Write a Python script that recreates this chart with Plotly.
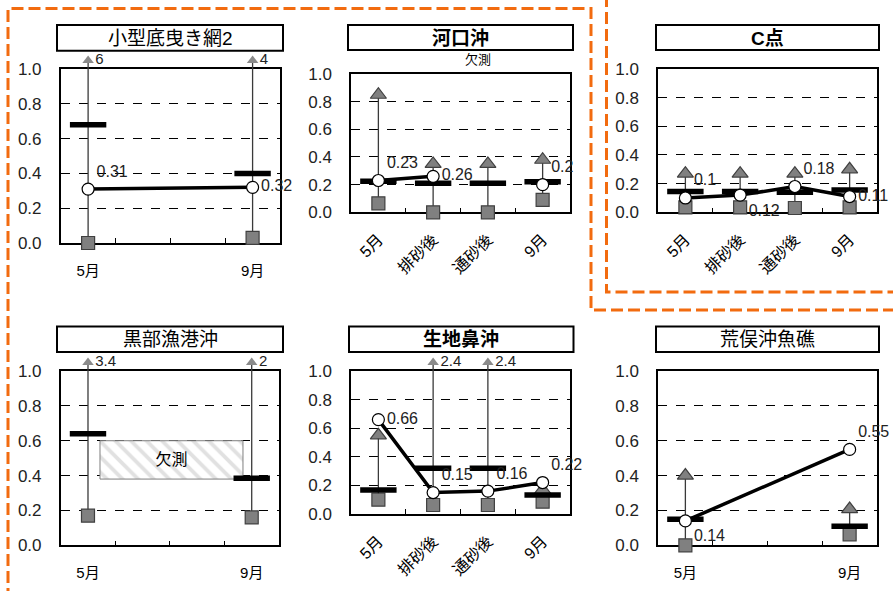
import plotly.graph_objects as go

W, H = 893, 591

# ---------------- data ----------------
categories = ["5月", "排砂後", "通砂後", "9月"]
titles = ["小型底曳き網2", "河口沖", "C点", "黒部漁港沖", "生地鼻沖", "荒俣沖魚礁"]
title_bold = [False, True, True, False, True, False]

# 小型底曳き網2
p1_cats = ["5月", "9月"]
p1_min = [0.0, 0.03]
p1_max = [6, 4]
p1_mean = [0.68, 0.40]
p1_val = [0.31, 0.32]

# 河口沖
p2_cats = ["5月", "排砂後", "通砂後", "9月"]
p2_min = [0.065, 0.0, 0.0, 0.09]
p2_max = [0.85, 0.35, 0.35, 0.38]
p2_mean = [0.225, 0.21, 0.21, 0.22]
p2_val = [0.23, 0.26, None, 0.2]

# C点
p3_cats = ["5月", "排砂後", "通砂後", "9月"]
p3_min = [0.035, 0.035, 0.03, 0.035]
p3_max = [0.27, 0.27, 0.27, 0.30]
p3_mean = [0.145, 0.145, 0.14, 0.155]
p3_val = [0.1, 0.12, 0.18, 0.11]

# 黒部漁港沖
p4_cats = ["5月", "9月"]
p4_min = [0.17, 0.16]
p4_max = [3.4, 2]
p4_mean = [0.64, 0.385]
p4_val = [None, None]
p4_missing_x = [1.53]        # centre of the 欠測 block (category units)
p4_missing_w = [2.62]
p4_missing_lo = [0.38]
p4_missing_hi = [0.60]

# 生地鼻沖
p5_cats = ["5月", "排砂後", "通砂後", "9月"]
p5_min = [0.10, 0.063, 0.063, 0.086]
p5_max = [0.55, 2.4, 2.4, 0.168]
p5_mean = [0.168, 0.32, 0.32, 0.133]
p5_val = [0.66, 0.15, 0.16, 0.22]

# 荒俣沖魚礁
p6_cats = ["5月", "9月"]
p6_min = [0.0, 0.063]
p6_max = [0.40, 0.208]
p6_mean = [0.15, 0.11]
p6_val = [0.14, 0.55]

panels = [
    (p1_cats, p1_min, p1_max, p1_mean, p1_val),
    (p2_cats, p2_min, p2_max, p2_mean, p2_val),
    (p3_cats, p3_min, p3_max, p3_mean, p3_val),
    (p4_cats, p4_min, p4_max, p4_mean, p4_val),
    (p5_cats, p5_min, p5_max, p5_mean, p5_val),
    (p6_cats, p6_min, p6_max, p6_mean, p6_val),
]

# ---------------- layout (pixels) ----------------
plot_px = [
    (60.7, 280, 69, 243),
    (351, 570, 74, 212.3),
    (658, 877, 69, 212.3),
    (60.7, 279, 371, 545.3),
    (351, 570, 371, 514),
    (658, 877, 371, 545.3),
]
title_px = [
    (57, 283, 25, 50.7),
    (348, 573, 25, 50),
    (656, 879, 25, 50),
    (57, 283, 326.5, 352),
    (349, 573.5, 326.5, 352),
    (656, 879, 326.5, 352),
]
rotated = [False, True, True, False, True, False]
label_pos = [
    ["top right", "middle right"],
    ["top right", "middle right", "top right", "top right"],
    ["top right", "bottom right", "top right", "middle right"],
    ["top right", "top right"],
    ["middle right", "top right", "top right", "top right"],
    ["bottom right", "top right"],
]
EXT = 16          # px the hidden data axis extends above the frame
ARROW_GAP = 8.5   # px above the frame where over-range arrows sit

FONT = "Liberation Sans, Arial, Noto Sans CJK JP, sans-serif"


def px(x):
    return x / W


def py(y):
    return 1 - y / H


fig = go.Figure()
layout = dict(
    width=W, height=H, margin=dict(l=0, r=0, t=0, b=0, pad=0, autoexpand=False),
    autosize=False,
    paper_bgcolor="white", plot_bgcolor="rgba(0,0,0,0)", showlegend=False,
    font=dict(family=FONT, color="black"),
    barmode="overlay",
)
shapes = []
annotations = []

GRAY = "#808080"
EDGE = "#404040"

for i, (cats, mins, maxs, means, vals) in enumerate(panels):
    n = i + 1
    xa = "x" if n == 1 else f"x{n}"
    ya = "y" if n == 1 else f"y{n}"
    yd = f"y{n + 6}"          # hidden data axis (same scale, taller domain)
    x0, x1, yt, yb = plot_px[i]
    hpx = yb - yt
    cap = 1 + ARROW_GAP / hpx
    xs = [categories.index(c) for c in cats]
    top = [m if m <= 1 else cap for m in maxs]

    # empty trace so the framed subplot (grid, ticks, frame) is drawn
    fig.add_trace(go.Scatter(x=[None], y=[None], mode="markers", xaxis=xa, yaxis=ya,
                             hoverinfo="skip"))

    # whiskers (min -> max)
    wx, wy = [], []
    for x, lo, hi in zip(xs, mins, top):
        wx += [x, x, None]
        wy += [lo, hi, None]
    fig.add_trace(go.Scatter(
        x=wx, y=wy, mode="lines", xaxis=xa, yaxis=yd,
        line=dict(color="#3a3a3a", width=1.3), hoverinfo="skip"))
    # 欠測 block
    if i == 3:
        fig.add_trace(go.Bar(
            x=p4_missing_x, y=[h - l for h, l in zip(p4_missing_hi, p4_missing_lo)],
            base=p4_missing_lo, width=p4_missing_w, xaxis=xa, yaxis=yd,
            marker=dict(color="white", line=dict(color="#7f7f7f", width=1),
                        pattern=dict(shape="\\", fgcolor="#c4c4c4", bgcolor="white",
                                     size=11, solidity=0.35)),
            text=["欠測"], textposition="inside", insidetextanchor="middle",
            textangle=0, constraintext="none",
            insidetextfont=dict(size=16, color="black"), hoverinfo="skip"))
    # squares (min)
    fig.add_trace(go.Scatter(
        x=xs, y=mins, mode="markers", xaxis=xa, yaxis=yd, cliponaxis=False,
        marker=dict(symbol="square", size=13, color=GRAY, line=dict(color=EDGE, width=1.2)),
        hoverinfo="skip"))
    # triangles (max within range)
    tx = [x for x, m in zip(xs, maxs) if m <= 1]
    ty = [m for m in maxs if m <= 1]
    if tx:
        fig.add_trace(go.Scatter(
            x=tx, y=ty, mode="markers", xaxis=xa, yaxis=yd, cliponaxis=False,
            marker=dict(symbol="triangle-up", size=14, color=GRAY, line=dict(color=EDGE, width=1.2)),
            hoverinfo="skip"))
    # over-range arrows
    ax_ = [x for x, m in zip(xs, maxs) if m > 1]
    av = [m for m in maxs if m > 1]
    if ax_:
        fig.add_trace(go.Scatter(
            x=ax_, y=[cap] * len(ax_), mode="markers+text", xaxis=xa, yaxis=yd, cliponaxis=False,
            marker=dict(symbol="triangle-up", size=10, color="#8a8a8a", line=dict(width=0)),
            text=[f"{v:g}" for v in av], textposition="middle right",
            textfont=dict(size=15, color="#222"), hoverinfo="skip"))
    # means (thick dash)
    fig.add_trace(go.Scatter(
        x=xs, y=means, mode="markers", xaxis=xa, yaxis=yd, cliponaxis=False,
        marker=dict(symbol="line-ew", size=26, line=dict(color="black", width=5.5)),
        hoverinfo="skip"))
    # values (circles + line)
    if any(v is not None for v in vals):
        fig.add_trace(go.Scatter(
            x=xs, y=vals, mode="lines+markers+text", xaxis=xa, yaxis=yd, cliponaxis=False,
            connectgaps=False,
            line=dict(color="black", width=3.5),
            marker=dict(symbol="circle", size=12, color="white", line=dict(color="black", width=1.2)),
            text=[("" if v is None else f"{v:g}") for v in vals],
            textposition=label_pos[i], textfont=dict(size=16, color="#222"),
            hoverinfo="skip"))

    # visible frame axes
    if rotated[i]:
        tickvals = list(range(len(categories)))
        ticktext = categories
    else:
        tickvals = [categories.index(c) for c in cats]
        ticktext = cats
    layout["xaxis" if n == 1 else f"xaxis{n}"] = dict(
        domain=[px(x0), px(x1)], anchor=ya, range=[-0.5, 3.5], automargin=False,
        tickvals=tickvals, ticktext=ticktext, ticks="",
        tickangle=-45 if rotated[i] else 0,
        ticklabelstandoff=10 if rotated[i] else 13,
        tickfont=dict(size=16 if rotated[i] else 15, color="black"),
        showgrid=False, zeroline=False, showline=True, mirror=True,
        linecolor="black", linewidth=1.5,
        minor=dict(tickvals=[0.5, 1.5, 2.5], ticks="inside", ticklen=5,
                   tickcolor="black", tickwidth=1, showgrid=False),
        fixedrange=True)
    layout["yaxis" if n == 1 else f"yaxis{n}"] = dict(
        domain=[py(yb), py(yt)], anchor=xa, range=[0, 1], dtick=0.2, tick0=0,
        automargin=False,
        tickformat=".1f", ticks="", ticklabelstandoff=14,
        tickfont=dict(size=17, color="#222"),
        showgrid=True, gridcolor="black", griddash="dash", gridwidth=1,
        zeroline=False, showline=True, mirror=True, linecolor="black", linewidth=1.5,
        fixedrange=True)
    # hidden data axis: same scale as the frame axis, reaching EXT px higher
    layout[f"yaxis{n + 6}"] = dict(
        domain=[py(yb), py(yt - EXT)], anchor=xa, range=[0, 1 + EXT / hpx],
        automargin=False,
        visible=False, showgrid=False, zeroline=False, fixedrange=True)

    # title box
    tx0, tx1, tyt, tyb = title_px[i]
    shapes.append(dict(type="rect", xref="paper", yref="paper",
                       x0=px(tx0), x1=px(tx1), y0=py(tyb), y1=py(tyt),
                       line=dict(color="black", width=2), fillcolor="white", layer="below"))
    t = titles[i]
    annotations.append(dict(
        xref="paper", yref="paper", x=px((tx0 + tx1) / 2), y=py((tyt + tyb) / 2 + 0.5),
        text=f"<b>{t}</b>" if title_bold[i] else t, showarrow=False,
        xanchor="center", yanchor="middle",
        font=dict(size=19, color="black", family=FONT)))

# 欠測 note above 河口沖
annotations.append(dict(xref="paper", yref="paper", x=px(478), y=py(60), text="欠測",
                        showarrow=False, xanchor="center", yanchor="middle",
                        font=dict(size=13, color="black")))

# orange dashed frames
ORANGE = "#F26B0F"


def path(points):
    return "M " + " L ".join(f"{px(x):.5f},{py(y):.5f}" for x, y in points)


shapes.append(dict(type="path", xref="paper", yref="paper",
                   path=path([(8, 600), (8, 8.5), (591, 8.5), (591, 310), (900, 310)]),
                   line=dict(color=ORANGE, width=3, dash="12px,5px")))
shapes.append(dict(type="path", xref="paper", yref="paper",
                   path=path([(606.5, -5), (606.5, 292), (900, 292)]),
                   line=dict(color=ORANGE, width=3, dash="12px,5px")))

layout["shapes"] = shapes
layout["annotations"] = annotations
fig.update_layout(**layout)
fig.write_html(
    "out.html",
    config={"displayModeBar": False},
    post_script="document.documentElement.style.margin='0';"
                "document.body.style.margin='0';document.body.style.overflow='hidden';",
)
